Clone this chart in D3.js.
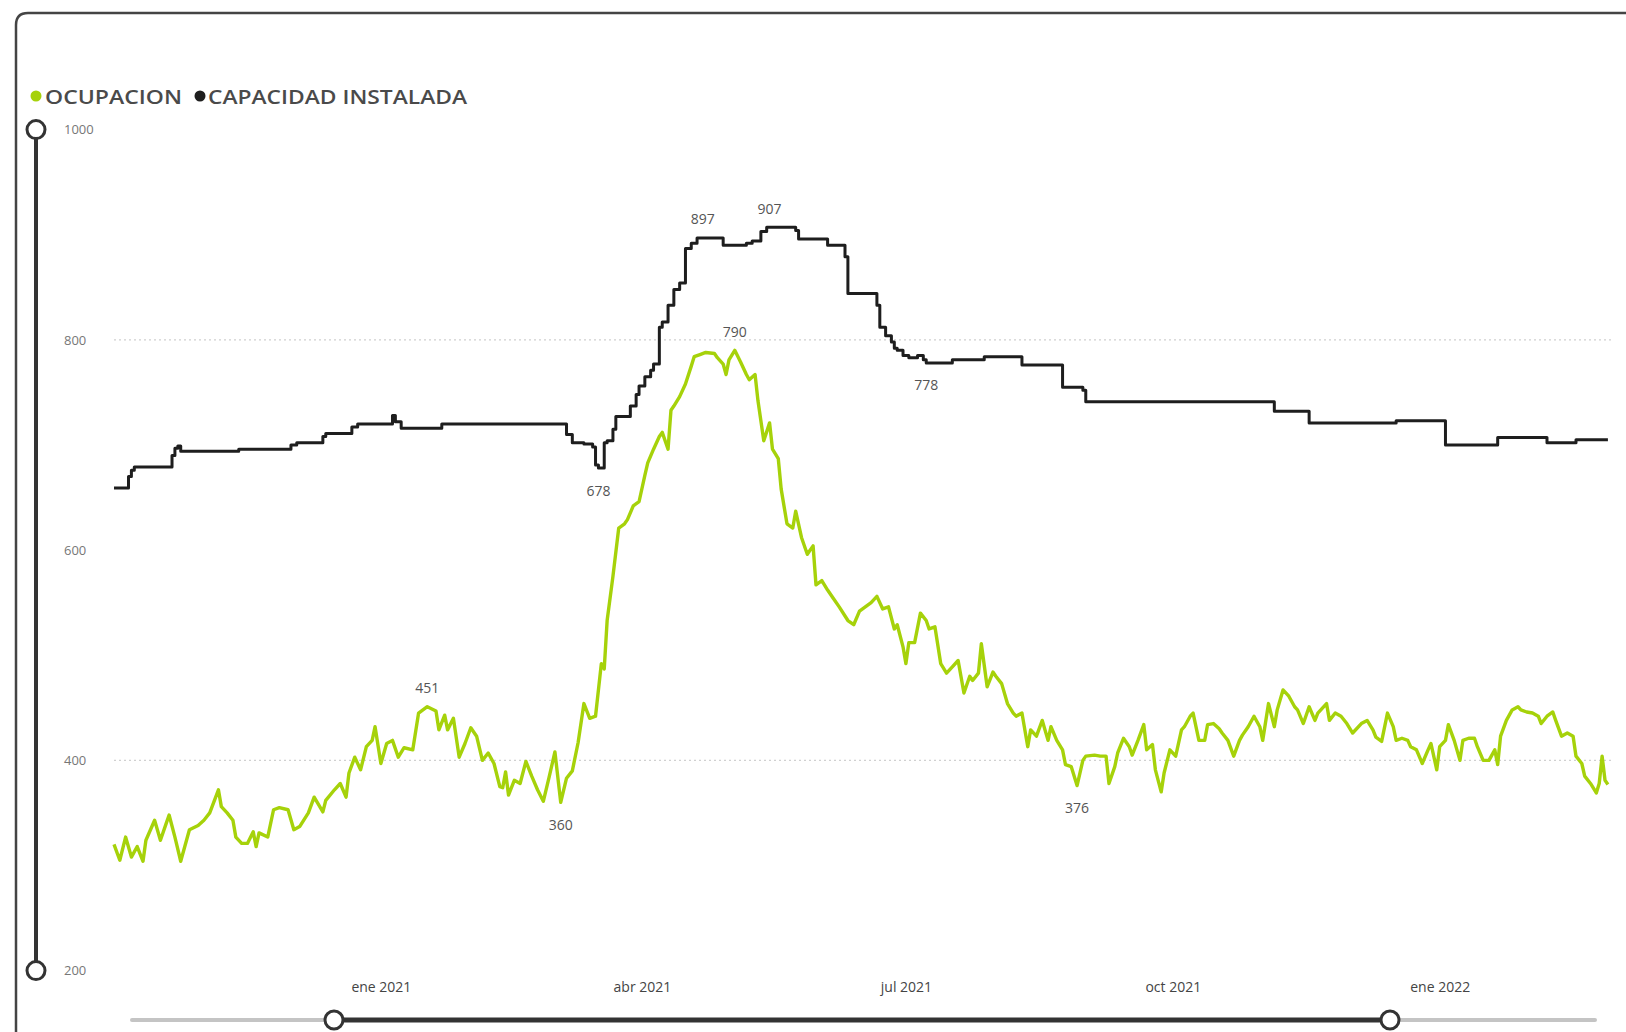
<!DOCTYPE html>
<html><head><meta charset="utf-8">
<script src="https://cdn.jsdelivr.net/npm/d3@7"></script>
<style>html,body{margin:0;padding:0;background:#fff;overflow:hidden;} svg{display:block;}</style>
</head><body>
<svg id="chart" width="1626" height="1032"></svg>
<script>
// ---- DATA (day = days since 2020-10-01) ----
const startDate = "2020-10-01";
const endDay = 515;
const seriesNames = ["OCUPACION", "CAPACIDAD INSTALADA"];

const occDays = [
0,2,4,6,8,10,11,14,16,18,19,21,23,25,26,29,31,33,36,37,
39,41,42,44,46,48,49,50,53,55,57,60,62,64,67,69,72,73,76,78,
80,81,83,85,87,89,90,92,94,96,98,100,103,105,108,111,112,114,115,117,
119,121,123,125,127,129,131,133,134,135,136,138,140,142,144,146,148,150,152,154,
156,158,160,162,164,166,168,169,170,172,174,176,177,179,181,183,184,186,188,189,
191,192,193,195,197,199,200,202,204,207,208,210,211,212,214,216,218,219,221,222,
224,226,227,229,230,232,234,235,237,239,241,242,244,246,248,250,253,255,257,259,
261,263,265,267,269,270,272,273,274,276,278,280,281,283,285,287,289,291,293,295,
296,298,299,301,303,304,306,308,310,311,313,315,316,318,320,322,323,325,327,328,
330,332,334,335,338,340,342,343,345,346,348,350,351,353,355,356,358,359,361,362,
364,366,368,369,371,372,374,376,377,379,381,382,384,386,388,389,391,393,395,396,
398,400,401,403,405,407,408,410,412,414,415,418,419,421,423,425,427,430,432,434,
435,437,439,441,442,444,446,447,449,451,453,454,456,457,459,460,462,464,465,467,
469,470,472,474,476,477,478,480,482,484,485,487,489,491,492,494,496,497,499,501,
503,504,506,507,509,511,512,513,514,515];

const occValues = [
320,305,327,308,318,304,324,343,324,340,348,327,304,324,334,338,343,350,372,356,
350,343,327,321,321,332,318,331,327,353,355,353,334,337,350,365,351,362,372,378,
365,388,403,391,413,419,432,397,416,419,403,412,410,445,451,447,429,443,429,440,
403,416,431,423,400,407,397,375,374,389,367,381,378,399,385,372,361,384,408,360,
383,390,417,454,440,442,492,487,533,575,621,625,629,642,646,671,683,696,708,712,
696,733,737,746,758,775,784,786,788,787,783,777,767,781,790,779,767,762,767,742,
704,721,696,687,658,625,621,637,612,596,604,567,571,562,554,546,533,529,542,546,
550,556,544,546,525,529,508,492,512,512,540,533,525,527,492,483,489,495,464,480,
476,483,511,470,484,480,473,454,445,442,445,413,429,423,438,419,432,419,410,396,
394,376,400,404,405,404,404,378,394,407,421,413,405,419,434,410,415,391,370,388,
410,404,429,432,442,445,419,419,434,435,430,426,419,404,419,424,432,442,432,419,
454,432,448,467,461,451,448,435,451,438,445,454,438,445,442,435,426,435,438,429,
422,418,445,432,419,421,419,413,410,397,410,416,391,413,419,434,419,400,419,421,
421,413,400,400,410,396,423,438,448,451,448,446,445,442,435,442,446,438,423,426,
423,404,397,385,378,369,378,404,381,377];

// capacity: value holds from each change day until the next
const capDays = [0,5,6,7,20,21,22,23,43,61,63,72,73,82,84,96,97,99,113,156,
158,162,165,166,167,169,170,172,173,178,180,181,183,185,186,188,189,191,193,195,
197,199,201,210,218,220,223,225,235,236,246,252,253,263,264,266,268,269,270,272,
274,277,279,280,289,300,313,327,334,335,400,412,442,459,477,494,504,515];
const capValues = [659,670,676,679,690,697,699,694,696,700,702,708,711,717,720,728,722,716,720,710,
702,701,698,681,678,702,704,715,727,737,748,756,765,771,777,812,817,833,848,854,
887,892,897,890,892,894,903,907,904,896,890,879,844,833,812,804,798,792,790,785,
783,785,781,778,781,784,776,755,752,741,732,721,723,700,707,702,705,705];

const yTicks = [200, 400, 600, 800, 1000];
const gridValues = [400, 800];
const xTickDates = ["2021-01-01", "2021-04-01", "2021-07-01", "2021-10-01", "2022-01-01"];
const xTickLabels = ["ene 2021", "abr 2021", "jul 2021", "oct 2021", "ene 2022"];

const labelSeries = ["occ", "occ", "occ", "occ", "cap", "cap", "cap", "cap"];
const labelDays = [108, 154, 214, 332, 167, 203, 226, 280];
const labelPlace = ["above", "below", "above", "below", "below", "above", "above", "below"];

// ---- DRAW ----
const DAY = 864e5;
const t0 = Date.parse(startDate + "T00:00:00Z");
const dayDate = d => new Date(t0 + d * DAY);

const svg = d3.select("#chart");
const GREEN = "#a6d20a", BLACK = "#1e1e1e";
const FONT = "'Open Sans', 'Noto Sans', sans-serif";

const x = d3.scaleUtc().domain([dayDate(0), dayDate(endDay)]).range([114, 114 + endDay * 2.9008]);
const y = d3.scaleLinear().domain([200, 1000]).range([970.6, 129.6]);

// frame
svg.append("path")
  .attr("d", "M16,1045 V25 Q16,13 28,13 H1640")
  .attr("fill", "none").attr("stroke", "#444").attr("stroke-width", 2.5);

// gridlines
svg.append("g").selectAll("line").data(gridValues).join("line")
  .attr("x1", x.range()[0]).attr("x2", x.range()[1] + 4)
  .attr("y1", d => y(d)).attr("y2", d => y(d))
  .attr("stroke", "#d0d0d0").attr("stroke-width", 1.2).attr("stroke-dasharray", "2,3");

// y axis labels
const yAxis = d3.axisLeft(y).tickValues(yTicks).tickFormat(d3.format("d")).tickSize(0).tickPadding(0);
const gy = svg.append("g").attr("transform", "translate(64,0)").call(yAxis);
gy.select(".domain").remove();
gy.selectAll("text").attr("text-anchor", "start").attr("x", 0)
  .attr("font-family", FONT).attr("font-size", 13).attr("fill", "#777");

// x axis labels
const xAxis = d3.axisBottom(x).tickValues(xTickDates.map(s => new Date(s + "T00:00:00Z")))
  .tickFormat((d, i) => xTickLabels[i]).tickSize(0).tickPadding(0);
const gx = svg.append("g").attr("transform", "translate(0,982)").call(xAxis);
gx.select(".domain").remove();
gx.selectAll("text").attr("font-family", FONT).attr("font-size", 14).attr("fill", "#444");

// lines
const occData = occDays.map((d, i) => ({ d, v: occValues[i] }));
const capData = capDays.map((d, i) => ({ d, v: capValues[i] }));

svg.append("path").datum(capData)
  .attr("fill", "none").attr("stroke", BLACK).attr("stroke-width", 3).attr("stroke-linejoin", "round")
  .attr("d", d3.line().x(p => x(dayDate(p.d))).y(p => y(p.v)).curve(d3.curveStepAfter));

svg.append("path").datum(occData)
  .attr("fill", "none").attr("stroke", GREEN).attr("stroke-width", 3.4).attr("stroke-linejoin", "round")
  .attr("d", d3.line().x(p => x(dayDate(p.d))).y(p => y(p.v)));

// data labels
function valueAt(series, day) {
  if (series === "occ") {
    const i = occDays.indexOf(day);
    return occValues[i];
  }
  let v = capValues[0];
  for (let i = 0; i < capDays.length; i++) if (capDays[i] <= day) v = capValues[i];
  return v;
}
const labels = labelDays.map((d, i) => ({ d, v: valueAt(labelSeries[i], d), place: labelPlace[i] }));
svg.append("g").selectAll("text").data(labels).join("text")
  .attr("x", l => x(dayDate(l.d)))
  .attr("y", l => y(l.v) + (l.place === "above" ? -19 : 22))
  .attr("text-anchor", "middle").attr("dominant-baseline", "central")
  .attr("font-family", FONT).attr("font-size", 14).attr("fill", "#555")
  .text(l => l.v);

// legend
const legend = svg.append("g").attr("transform", "translate(0,96)");
const legItems = [
  { name: seriesNames[0], color: GREEN, cx: 36, tx: 45, w: 137 },
  { name: seriesNames[1], color: BLACK, cx: 200, tx: 208, w: 259 }
];
legItems.forEach(it => {
  legend.append("circle").attr("cx", it.cx).attr("cy", 0).attr("r", 5.5).attr("fill", it.color);
  legend.append("text").attr("x", it.tx).attr("y", 0).attr("dominant-baseline", "central")
    .attr("font-family", FONT).attr("font-size", 20).attr("font-weight", 600).attr("fill", "#4a4a4a")
    .attr("textLength", it.w).attr("lengthAdjust", "spacingAndGlyphs").text(it.name);
});

// y range slider
const ys = svg.append("g");
ys.append("line").attr("x1", 36).attr("x2", 36).attr("y1", y(1000)).attr("y2", y(200))
  .attr("stroke", "#333").attr("stroke-width", 4);
[1000, 200].forEach(v => ys.append("circle").attr("cx", 36).attr("cy", y(v)).attr("r", 9)
  .attr("fill", "#fff").attr("stroke", "#333").attr("stroke-width", 3));

// x range slider
const xs = svg.append("g");
xs.append("line").attr("x1", 132).attr("x2", 1595).attr("y1", 1020).attr("y2", 1020)
  .attr("stroke", "#c4c4c4").attr("stroke-width", 4).attr("stroke-linecap", "round");
xs.append("line").attr("x1", 334).attr("x2", 1390).attr("y1", 1020).attr("y2", 1020)
  .attr("stroke", "#333").attr("stroke-width", 5);
[334, 1390].forEach(cx => xs.append("circle").attr("cx", cx).attr("cy", 1020).attr("r", 9)
  .attr("fill", "#fff").attr("stroke", "#333").attr("stroke-width", 3));
</script>
</body></html>
